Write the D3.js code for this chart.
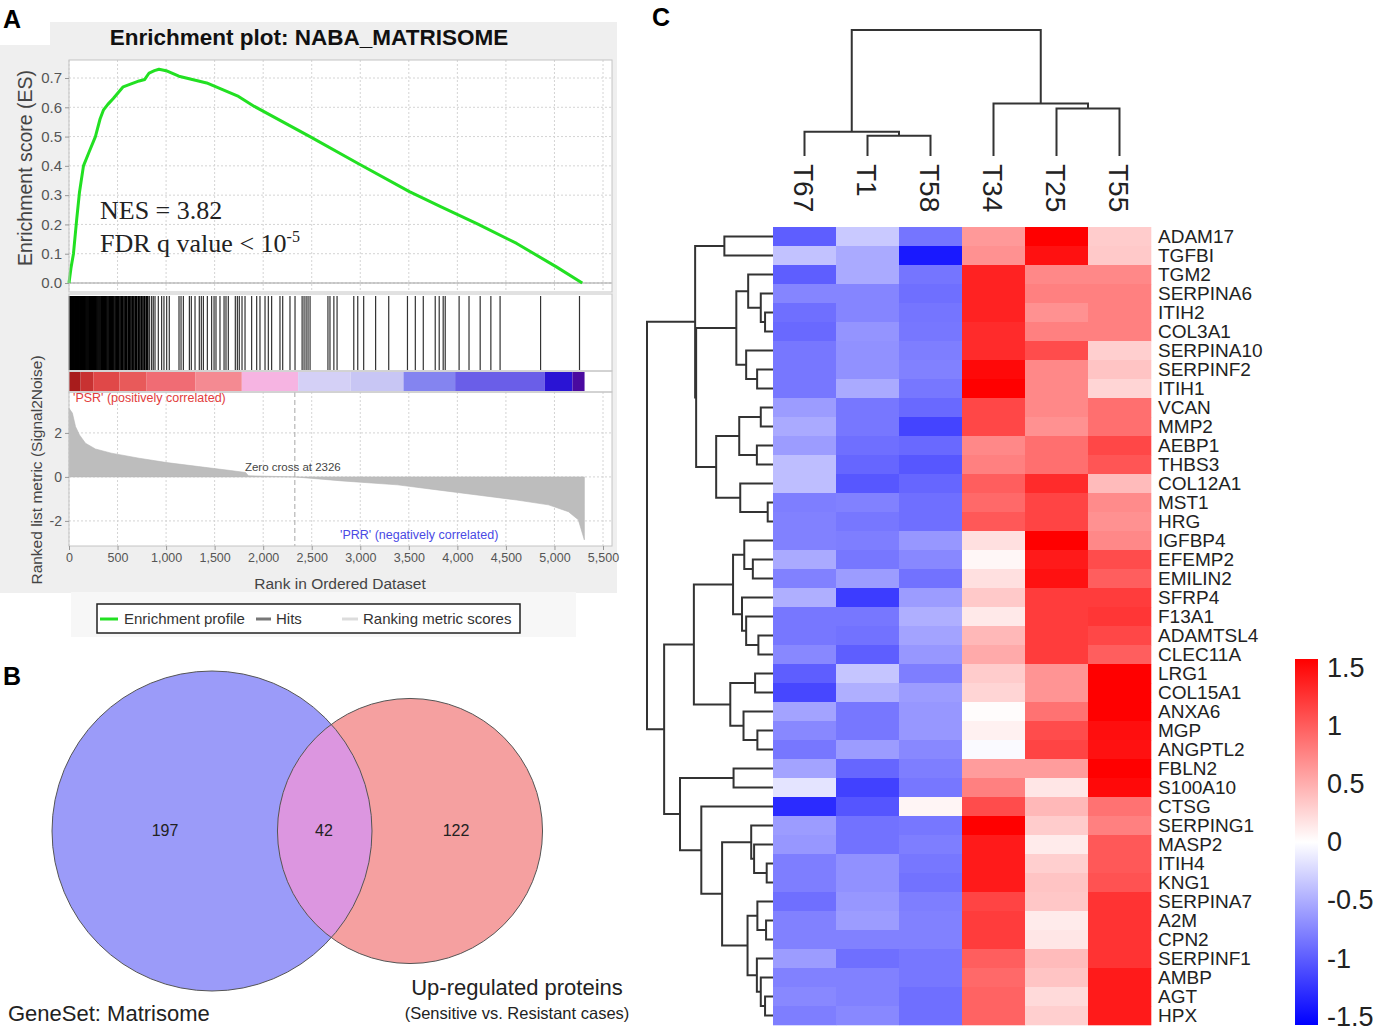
<!DOCTYPE html>
<html>
<head>
<meta charset="utf-8">
<script src="https://cdn.jsdelivr.net/npm/d3@7"></script>
<style>
  body { margin: 0; background: #fff; }
  svg text { font-family: "Liberation Sans", Arial, Helvetica, sans-serif; }
</style>
</head>
<body>
<div id="fig"></div>
<script>
// ---------------- panel A : GSEA data ----------------
var esRank  = [0, 20, 46, 80, 108, 149, 210, 272, 320, 354, 400, 456, 558, 640, 723, 780, 825, 880, 927, 1000, 1132, 1418, 1746, 1909, 2482, 2973, 3506, 3833, 4201, 4611, 5020, 5286];
var esValue = [0, 0.05, 0.1, 0.22, 0.31, 0.4, 0.45, 0.5, 0.56, 0.59, 0.61, 0.63, 0.67, 0.68, 0.69, 0.695, 0.717, 0.725, 0.73, 0.725, 0.706, 0.683, 0.637, 0.603, 0.5, 0.409, 0.312, 0.26, 0.203, 0.135, 0.055, 0.0];

var hitRanks = [5, 14, 22, 30, 38, 45, 53, 61, 70, 78, 86, 95, 104, 112, 121, 130, 139, 148, 157, 166, 175, 185, 195, 205, 214, 224, 234, 244, 254, 265, 276, 287, 298, 309, 320, 332, 343, 355, 366, 378, 390, 402, 414, 426, 438, 450, 462, 475, 488, 500, 513, 526, 540, 553, 567, 581, 595, 610, 624, 638, 652, 668, 683, 698, 714, 730, 746, 762, 778, 795, 812,
  830, 851, 868, 886, 920, 954, 978, 1006, 1033, 1133, 1154, 1178, 1240, 1260, 1298, 1342, 1363, 1384, 1425, 1469, 1494, 1514, 1555, 1597, 1617, 1641, 1713, 1734, 1754, 1782, 1813, 1881, 1933, 1967, 2019, 2053, 2087, 2173, 2201, 2276, 2328,
  2401, 2421, 2442, 2462, 2483, 2667, 2688, 2728, 2761, 2933, 2974, 3035, 3158, 3293, 3486, 3567, 3649, 3772, 3813, 3854, 3875, 4018, 4120, 4235, 4345, 4440, 4857, 5258];

var barStart = [0, 120, 250, 520, 800, 1300, 1780, 2360, 2900, 3445, 3977, 4898, 5185];
var barEnd   = [120, 250, 520, 800, 1300, 1780, 2360, 2900, 3445, 3977, 4898, 5185, 5310];
var barColor = ["#a81c1c", "#c83232", "#e04848", "#e85a5a", "#f06c74", "#f48a92", "#f6b4e2", "#d4d0f6", "#c8c6f4", "#8484f0", "#6a5ee8", "#2a14d4", "#4a0aa0"];

var metricRank  = [0, 35, 67, 108, 170, 272, 436, 722, 1009, 1336, 1664, 1819, 1848, 2326, 2810, 3383, 3793, 4202, 4612, 4939, 5144, 5246, 5287, 5308];
var metricValue = [3.12, 2.9, 2.29, 1.91, 1.53, 1.27, 1.08, 0.85, 0.65, 0.47, 0.29, 0.2, 0.05, 0, -0.18, -0.36, -0.59, -0.82, -1.05, -1.27, -1.58, -1.95, -2.56, -2.86];

var rankTicks   = [0, 500, 1000, 1500, 2000, 2500, 3000, 3500, 4000, 4500, 5000, 5500];
var esTicks     = [0.0, 0.1, 0.2, 0.3, 0.4, 0.5, 0.6, 0.7];
var metricTicks = [2, 0, -2];
var zeroCross = 2326;

// ---------------- panel B : Venn ----------------
var vennCounts = [197, 42, 122];
var setSizes   = [197 + 42, 42 + 122];

// ---------------- panel C : heatmap ----------------
var sampleNames = ["T67", "T1", "T58", "T34", "T25", "T55"];
var geneNames = ["ADAM17", "TGFBI", "TGM2", "SERPINA6", "ITIH2", "COL3A1", "SERPINA10", "SERPINF2", "ITIH1", "VCAN", "MMP2", "AEBP1", "THBS3", "COL12A1", "MST1", "HRG", "IGFBP4", "EFEMP2", "EMILIN2", "SFRP4", "F13A1", "ADAMTSL4", "CLEC11A", "LRG1", "COL15A1", "ANXA6", "MGP", "ANGPTL2", "FBLN2", "S100A10", "CTSG", "SERPING1", "MASP2", "ITIH4", "KNG1", "SERPINA7", "A2M", "CPN2", "SERPINF1", "AMBP", "AGT", "HPX"];

var valT67 = [-0.95, -0.36, -0.95, -0.72, -0.85, -0.88, -0.8, -0.8, -0.8, -0.58, -0.5, -0.58, -0.38, -0.38, -0.76, -0.74, -0.74, -0.5, -0.74, -0.47, -0.8, -0.8, -0.7, -0.95, -1.08, -0.54, -0.7, -0.8, -0.54, -0.16, -1.25, -0.58, -0.61, -0.76, -0.76, -0.85, -0.74, -0.74, -0.58, -0.74, -0.7, -0.76];
var valT1  = [-0.32, -0.5, -0.5, -0.72, -0.72, -0.63, -0.65, -0.65, -0.5, -0.8, -0.8, -0.85, -0.9, -0.99, -0.74, -0.8, -0.76, -0.8, -0.58, -1.15, -0.8, -0.83, -0.95, -0.34, -0.47, -0.8, -0.8, -0.58, -0.9, -1.12, -1.0, -0.83, -0.83, -0.65, -0.65, -0.61, -0.58, -0.74, -0.85, -0.74, -0.74, -0.7];
var valT58 = [-0.81, -1.35, -0.81, -0.85, -0.81, -0.8, -0.76, -0.74, -0.8, -0.88, -1.1, -0.88, -0.99, -0.9, -0.85, -0.85, -0.61, -0.7, -0.83, -0.58, -0.47, -0.54, -0.61, -0.76, -0.58, -0.61, -0.61, -0.7, -0.76, -0.8, 0.06, -0.8, -0.76, -0.8, -0.83, -0.76, -0.74, -0.74, -0.8, -0.8, -0.85, -0.85];
var valT34 = [0.6, 0.65, 1.3, 1.3, 1.3, 1.25, 1.25, 1.45, 1.5, 1.08, 1.08, 0.7, 0.75, 0.95, 0.88, 0.98, 0.18, 0.05, 0.18, 0.32, 0.13, 0.42, 0.5, 0.3, 0.25, 0.02, 0.08, -0.03, 0.58, 0.75, 1.05, 1.5, 1.35, 1.35, 1.35, 1.1, 1.15, 1.15, 0.95, 0.88, 0.92, 0.92];
var valT25 = [1.5, 1.4, 0.7, 0.75, 0.65, 0.75, 1.05, 0.7, 0.7, 0.7, 0.65, 0.85, 0.85, 1.25, 1.1, 1.1, 1.5, 1.35, 1.4, 1.15, 1.15, 1.15, 1.15, 0.63, 0.63, 0.83, 1.05, 1.1, 0.58, 0.15, 0.42, 0.3, 0.12, 0.28, 0.35, 0.33, 0.12, 0.15, 0.4, 0.35, 0.22, 0.28];
var valT55 = [0.3, 0.32, 0.7, 0.75, 0.75, 0.75, 0.28, 0.35, 0.25, 0.85, 0.85, 1.08, 1.0, 0.4, 0.68, 0.65, 0.7, 1.05, 0.95, 1.15, 1.18, 1.08, 0.95, 1.5, 1.5, 1.5, 1.42, 1.4, 1.5, 1.45, 0.83, 0.75, 0.98, 0.98, 1.02, 1.2, 1.2, 1.2, 1.2, 1.35, 1.35, 1.35];

// dendrograms: [left, right, mergeHeight], leaves are indices
var rowTree =
  [[[0, 1, 3.86],
    [[[2, [3, [4, 5, 0.63], 0.97], 1.97], [6, [7, 8, 1.26], 2.13], 2.91],
     [[[9, 10, 0.97], [11, 12, 1.28], 2.68], [13, [14, 15, 0.42], 2.6], 4.51],
     6.10],
    6.18],
   [[[[16, [17, 18, 1.60], 2.28], [19, [20, [21, 22, 1.16], 2.13], 2.46], 3.17],
     [[23, 24, 1.42], [25, [26, 27, 1.24], 2.34], 3.39],
     6.28],
    [[28, 29, 3.13],
     [30, [[31, [32, [33, 34, 0.50], 1.50], 1.73],
           [[35, [36, 37, 0.55], 1.24], [38, [39, [40, 41, 0.63], 0.97], 1.28], 2.02], 4.04], 5.69],
     7.38],
    8.64],
   10];
var colTree = [[0, [1, 2, 1.6], 1.92], [3, [4, 5, 3.76], 4.16], 10];

var legendTicks = [1.5, 1, 0.5, 0, -0.5, -1, -1.5];

// ======================================================================
var svg = d3.select("#fig").append("svg")
  .attr("width", 1380).attr("height", 1033)
  .style("background", "#fff");

// ---------------- panel A ----------------
var gA = svg.append("g");
gA.append("rect").attr("x", 50).attr("y", 22).attr("width", 567).attr("height", 26).attr("fill", "#efefef");
gA.append("rect").attr("x", 0).attr("y", 45).attr("width", 617).attr("height", 548).attr("fill", "#efefef");
gA.append("rect").attr("x", 71).attr("y", 592).attr("width", 505).attr("height", 45).attr("fill", "#f7f7f7");

var xRank = d3.scaleLinear().domain([0, 5500]).range([69, 603]);
var yES = d3.scaleLinear().domain([0, 0.7]).range([283, 78]);
var yMet = d3.scaleLinear().domain([-3.14, 3.86]).range([546, 392]);
var left = 69, right = 612;

// plot background
gA.append("rect").attr("x", left).attr("y", 60).attr("width", right - left).attr("height", 486).attr("fill", "#fff");

// grids
var grid = gA.append("g").attr("stroke", "#d4d4d4").attr("stroke-dasharray", "2,2").attr("stroke-width", 1);
rankTicks.forEach(function(t) {
  grid.append("line").attr("x1", xRank(t)).attr("x2", xRank(t)).attr("y1", 60).attr("y2", 292);
  grid.append("line").attr("x1", xRank(t)).attr("x2", xRank(t)).attr("y1", 392).attr("y2", 546);
});
esTicks.forEach(function(t) {
  grid.append("line").attr("x1", left).attr("x2", right).attr("y1", yES(t)).attr("y2", yES(t));
});
metricTicks.forEach(function(t) {
  grid.append("line").attr("x1", left).attr("x2", right).attr("y1", yMet(t)).attr("y2", yMet(t));
});

// ES zero line + curve
gA.append("line").attr("x1", left).attr("x2", right).attr("y1", yES(0)).attr("y2", yES(0))
  .attr("stroke", "#a0a0a0").attr("stroke-width", 1.2);
var esLine = d3.line().x(function(d, i) { return xRank(esRank[i]); }).y(function(d) { return yES(d); });
gA.append("path").attr("d", esLine(esValue)).attr("fill", "none")
  .attr("stroke", "#22e022").attr("stroke-width", 3).attr("stroke-linejoin", "round");

// hits
gA.append("g").selectAll("line").data(hitRanks).enter().append("line")
  .attr("x1", function(d) { return xRank(d); }).attr("x2", function(d) { return xRank(d); })
  .attr("y1", 296).attr("y2", 370)
  .attr("stroke", function(d) { return d < 830 ? "#000" : "#333"; })
  .attr("stroke-width", function(d) { return d < 830 ? 1.6 : 1.2; });

// ranking colour bar
gA.append("g").selectAll("rect").data(barColor).enter().append("rect")
  .attr("x", function(d, i) { return xRank(barStart[i]); })
  .attr("width", function(d, i) { return xRank(barEnd[i]) - xRank(barStart[i]); })
  .attr("y", 372).attr("height", 19).attr("fill", function(d) { return d; });

// metric area
var metArea = d3.area()
  .x(function(d, i) { return xRank(metricRank[i]); })
  .y0(yMet(0)).y1(function(d) { return yMet(d); });
gA.append("path").attr("d", metArea(metricValue)).attr("fill", "#bdbdbd").attr("stroke", "#b5b5b5").attr("stroke-width", 0.6);
gA.append("line").attr("x1", xRank(zeroCross)).attr("x2", xRank(zeroCross)).attr("y1", 392).attr("y2", 546)
  .attr("stroke", "#a8a8a8").attr("stroke-dasharray", "5,3").attr("stroke-width", 1);

// panel frames
var frames = [[60, 292], [294, 371], [371, 392], [392, 546]];
frames.forEach(function(f) {
  gA.append("rect").attr("x", left).attr("y", f[0]).attr("width", right - left).attr("height", f[1] - f[0])
    .attr("fill", "none").attr("stroke", "#c4c4c4").attr("stroke-width", 1);
});

// axes
var axES = gA.append("g").attr("transform", "translate(" + left + ",0)")
  .call(d3.axisLeft(yES).tickValues(esTicks).tickFormat(d3.format(".1f")).tickSize(4));
var axMet = gA.append("g").attr("transform", "translate(" + left + ",0)")
  .call(d3.axisLeft(yMet).tickValues(metricTicks).tickFormat(function(d) { return String(d); }).tickSize(4));
var axRank = gA.append("g").attr("transform", "translate(0,546)")
  .call(d3.axisBottom(xRank).tickValues(rankTicks).tickFormat(d3.format(",")).tickSize(4));
[axES, axMet, axRank].forEach(function(a) {
  a.select(".domain").remove();
  a.selectAll("line").attr("stroke", "#999");
  a.selectAll("text").attr("fill", "#555").style("font-family", "'Liberation Sans', Arial, sans-serif");
});
axES.selectAll("text").attr("font-size", 15);
axMet.selectAll("text").attr("font-size", 14);
axRank.selectAll("text").attr("font-size", 12.5);

// texts
gA.append("text").attr("x", 309).attr("y", 45).attr("text-anchor", "middle")
  .attr("font-size", 22.5).attr("font-weight", "bold").attr("fill", "#111").text("Enrichment plot: NABA_MATRISOME");
gA.append("text").attr("transform", "translate(32,168) rotate(-90)").attr("text-anchor", "middle")
  .attr("font-size", 19.5).attr("fill", "#444").text("Enrichment score (ES)");
gA.append("text").attr("transform", "translate(42,470) rotate(-90)").attr("text-anchor", "middle")
  .attr("font-size", 15.5).attr("fill", "#444").text("Ranked list metric (Signal2Noise)");
gA.append("text").attr("x", 340).attr("y", 589).attr("text-anchor", "middle")
  .attr("font-size", 15.5).attr("fill", "#444").text("Rank in Ordered Dataset");
gA.append("text").attr("x", xRank(zeroCross) - 2).attr("y", 471).attr("text-anchor", "middle")
  .attr("font-size", 11.5).attr("fill", "#444").text("Zero cross at " + zeroCross);
gA.append("text").attr("x", 73).attr("y", 402).attr("font-size", 12.5).attr("fill", "#e23c3c")
  .text("'PSR' (positively correlated)");
gA.append("text").attr("x", 340).attr("y", 539).attr("font-size", 12.5).attr("fill", "#4a4ae4")
  .text("'PRR' (negatively correlated)");
var nes = gA.append("g").attr("fill", "#222");
nes.append("text").attr("x", 100).attr("y", 219).attr("font-size", 26)
  .style("font-family", "'Liberation Serif', 'Times New Roman', serif").text("NES = 3.82");
var fdr = nes.append("text").attr("x", 100).attr("y", 252).attr("font-size", 26)
  .style("font-family", "'Liberation Serif', 'Times New Roman', serif");
fdr.append("tspan").text("FDR q value < 10");
fdr.append("tspan").attr("dy", -10).attr("font-size", 16).text("-5");

// legend
var lg = gA.append("g");
lg.append("rect").attr("x", 97).attr("y", 604).attr("width", 423).attr("height", 29)
  .attr("fill", "#fff").attr("stroke", "#222").attr("stroke-width", 1.5);
var legItems = [
  { x: 100, w: 18, c: "#22e022", label: "Enrichment profile", tx: 124 },
  { x: 256, w: 15, c: "#777", label: "Hits", tx: 276 },
  { x: 342, w: 16, c: "#dcdcdc", label: "Ranking metric scores", tx: 363 }
];
legItems.forEach(function(d) {
  lg.append("line").attr("x1", d.x).attr("x2", d.x + d.w).attr("y1", 619).attr("y2", 619)
    .attr("stroke", d.c).attr("stroke-width", 3);
  lg.append("text").attr("x", d.tx).attr("y", 624).attr("font-size", 15).attr("fill", "#333").text(d.label);
});

// ---------------- panel B : Venn ----------------
var gB = svg.append("g");
var rScale = d3.scaleSqrt().domain([0, setSizes[0]]).range([0, 160]);
var cy = 831, cxA = 212, cxB = 410;
gB.append("defs").append("clipPath").attr("id", "clipA")
  .append("circle").attr("cx", cxA).attr("cy", cy).attr("r", rScale(setSizes[0]));
gB.append("circle").attr("cx", cxA).attr("cy", cy).attr("r", rScale(setSizes[0])).attr("fill", "#9b9bf9");
gB.append("circle").attr("cx", cxB).attr("cy", cy).attr("r", rScale(setSizes[1])).attr("fill", "#f5a0a0");
gB.append("circle").attr("cx", cxB).attr("cy", cy).attr("r", rScale(setSizes[1])).attr("fill", "#dc96e0")
  .attr("clip-path", "url(#clipA)");
gB.append("circle").attr("cx", cxA).attr("cy", cy).attr("r", rScale(setSizes[0])).attr("fill", "none").attr("stroke", "#555").attr("stroke-width", 1);
gB.append("circle").attr("cx", cxB).attr("cy", cy).attr("r", rScale(setSizes[1])).attr("fill", "none").attr("stroke", "#555").attr("stroke-width", 1);
var countX = [165, 324, 456];
vennCounts.forEach(function(c, i) {
  gB.append("text").attr("x", countX[i]).attr("y", 836).attr("text-anchor", "middle")
    .attr("font-size", 16).attr("fill", "#222").text(c);
});
gB.append("text").attr("x", 8).attr("y", 1021).attr("font-size", 22).attr("fill", "#222").text("GeneSet: Matrisome");
gB.append("text").attr("x", 517).attr("y", 995).attr("text-anchor", "middle").attr("font-size", 22).attr("fill", "#222").text("Up-regulated proteins");
gB.append("text").attr("x", 517).attr("y", 1019).attr("text-anchor", "middle").attr("font-size", 16.5).attr("fill", "#222").text("(Sensitive vs. Resistant cases)");

// ---------------- panel C : heatmap ----------------
var gC = svg.append("g");
var sampleVals = [valT67, valT1, valT58, valT34, valT25, valT55];
var xCol = d3.scaleBand().domain(sampleNames).range([773, 1151]);
var yRow = d3.scaleBand().domain(geneNames).range([227, 1025]);
var color = d3.scaleLinear().domain([-1.5, 0, 1.5]).range(["#0000ff", "#ffffff", "#ff0000"]).clamp(true);

var cells = [];
sampleNames.forEach(function(s, j) {
  geneNames.forEach(function(g, i) { cells.push({ s: s, g: g, v: sampleVals[j][i] }); });
});
gC.append("g").selectAll("rect").data(cells).enter().append("rect")
  .attr("x", function(d) { return xCol(d.s); }).attr("y", function(d) { return yRow(d.g); })
  .attr("width", xCol.bandwidth() + 0.3).attr("height", yRow.bandwidth() + 0.3)
  .attr("fill", function(d) { return color(d.v); });

// gene labels
gC.append("g").selectAll("text").data(geneNames).enter().append("text")
  .attr("x", 1158).attr("y", function(d) { return yRow(d) + yRow.bandwidth() / 2; })
  .attr("dy", "0.36em").attr("font-size", 19).attr("fill", "#222").text(function(d) { return d; });

// sample labels
gC.append("g").selectAll("text").data(sampleNames).enter().append("text")
  .attr("transform", function(d) { return "translate(" + (xCol(d) + xCol.bandwidth() / 2) + ",164) rotate(90)"; })
  .attr("dy", "0.36em").attr("font-size", 28).attr("fill", "#222").text(function(d) { return d; });

// dendrograms
function drawTree(g, node, posOf, hScale, isRow) {
  if (typeof node === "number") return [posOf(node), 0];
  var a = drawTree(g, node[0], posOf, hScale, isRow);
  var b = drawTree(g, node[1], posOf, hScale, isRow);
  var h = node[2];
  var pts = [[a[0], a[1]], [a[0], h], [b[0], h], [b[0], b[1]]];
  var line = isRow
    ? d3.line().x(function(p) { return hScale(p[1]); }).y(function(p) { return p[0]; })
    : d3.line().x(function(p) { return p[0]; }).y(function(p) { return hScale(p[1]); });
  g.append("path").attr("d", line(pts)).attr("fill", "none")
    .attr("stroke", "#333").attr("stroke-width", 2);
  return [(a[0] + b[0]) / 2, h];
}
var rowH = d3.scaleLinear().domain([0, 10]).range([773, 647]);
var colH = d3.scaleLinear().domain([0, 10]).range([156, 30]);
drawTree(gC.append("g"), rowTree, function(i) { return yRow(geneNames[i]) + yRow.bandwidth() / 2; }, rowH, true);
drawTree(gC.append("g"), colTree, function(j) { return xCol(sampleNames[j]) + xCol.bandwidth() / 2; }, colH, false);

// colour key
var yKey = d3.scaleLinear().domain([1.5, -1.5]).range([667, 1016]);
var grad = svg.append("defs").append("linearGradient").attr("id", "keyGrad")
  .attr("x1", 0).attr("x2", 0).attr("y1", 0).attr("y2", 1);
[1.5, 0, -1.5].forEach(function(v, i) {
  grad.append("stop").attr("offset", (i * 50) + "%").attr("stop-color", color(v));
});
gC.append("rect").attr("x", 1295).attr("y", yKey(1.5) - 8).attr("width", 23)
  .attr("height", yKey(-1.5) - yKey(1.5) + 17).attr("fill", "url(#keyGrad)");
gC.append("g").selectAll("text").data(legendTicks).enter().append("text")
  .attr("x", 1327).attr("y", function(d) { return yKey(d); }).attr("dy", "0.36em")
  .attr("font-size", 27).attr("fill", "#222").text(function(d) { return d; });

// panel letters
[["A", 3, 28], ["B", 3, 685], ["C", 652, 26]].forEach(function(p) {
  svg.append("text").attr("x", p[1]).attr("y", p[2]).attr("font-size", 25).attr("font-weight", "bold")
    .attr("fill", "#000").text(p[0]);
});
</script>
</body>
</html>
